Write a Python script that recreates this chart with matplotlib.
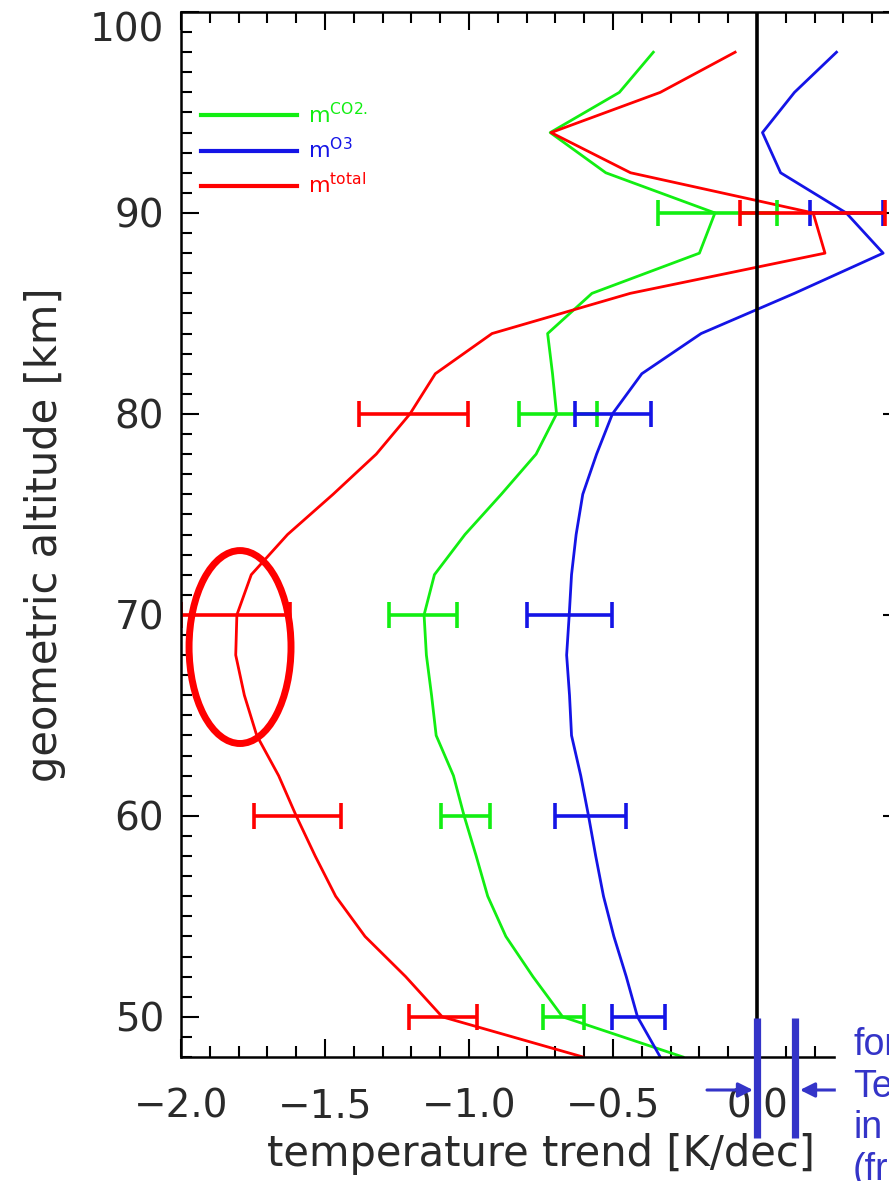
import matplotlib
matplotlib.use('Agg')

import matplotlib.pyplot as plt
import matplotlib.transforms as mtransforms
from matplotlib.patches import Ellipse, Rectangle
from matplotlib.ticker import MultipleLocator

# altitude grid [km] and temperature trends [K/dec]
alt = [48, 50, 52, 54, 56, 58, 60, 62, 64, 66, 68, 70, 72,
       74, 76, 78, 80, 82, 84, 86, 88, 90, 92, 94, 96, 98]
trend_co2 = [-0.257, -0.675, -0.778, -0.872, -0.935, -0.975, -1.017, -1.054, -1.114, -1.13, -1.148, -1.156, -1.12,
             -1.014, -0.888, -0.767, -0.696, -0.71, -0.727, -0.573, -0.20, -0.146, -0.525, -0.718, -0.478, -0.36]
trend_o3 = [-0.336, -0.415, -0.454, -0.497, -0.533, -0.56, -0.585, -0.612, -0.644, -0.651, -0.661, -0.652, -0.644,
            -0.628, -0.605, -0.557, -0.502, -0.40, -0.194, 0.13, 0.438, 0.31, 0.082, 0.019, 0.13, 0.276]
trend_total = [-0.604, -1.093, -1.22, -1.361, -1.463, -1.534, -1.60, -1.661, -1.737, -1.78, -1.81, -1.806, -1.756,
               -1.63, -1.472, -1.322, -1.205, -1.117, -0.92, -0.44, 0.236, 0.195, -0.439, -0.715, -0.336, -0.076]

# error bars
err_alt = [50, 60, 70, 80, 90]
co2_err_x = [-0.672, -1.0125, -1.16, -0.691, -0.1375]
co2_err = [0.071, 0.0855, 0.119, 0.137, 0.2055]
o3_err_x = [-0.412, -0.578, -0.65, -0.5, 0.31]
o3_err = [0.092, 0.124, 0.147, 0.131, 0.126]
total_err_x = [-1.089, -1.595, -1.81, -1.192, 0.193]
total_err = [0.118, 0.15, 0.19, 0.19, 0.251]

labels = [r'm$^{\rm CO2.}$', r'm$^{\rm O3}$', r'm$^{\rm total}$']
obs_range = [0.0, 0.132]
annot_lines = ['for', 'Te', 'in', '(fr']

GREEN = '#12ee12'
BLUE = '#1414e6'
RED = '#ff0000'
ANNOT = '#3434c8'
TXT = '#2a2a2a'

W, H = 889, 1181
fig = plt.figure(figsize=(W / 100, H / 100), dpi=100)
ax = fig.add_axes([181 / W, 1 - 1057 / H, 720 / W, 1045 / H])

def fx(px):
    return px / W

def fy(py):
    return 1 - py / H

ax.axvline(0, color='black', lw=2.6, zorder=5)

ax.plot(trend_co2, alt, color=GREEN, lw=2.0, label=labels[0])
ax.plot(trend_o3, alt, color=BLUE, lw=2.0, label=labels[1])
ax.plot(trend_total, alt, color=RED, lw=2.0, label=labels[2])

ebkw = dict(fmt='none', elinewidth=2.6, capsize=9.7, capthick=2.6)
ax.errorbar(co2_err_x, err_alt, xerr=co2_err, ecolor=GREEN, **ebkw)
ax.errorbar(o3_err_x, err_alt, xerr=o3_err, ecolor=BLUE, **ebkw)
ax.errorbar(total_err_x, err_alt, xerr=total_err, ecolor=RED, **ebkw)

ax.add_patch(Ellipse((-1.795, 68.4), width=0.354, height=9.6, fill=False, ec=RED, lw=5, zorder=6))

ax.set_xlim(-2.0, 0.5)
ax.set_ylim(48, 100)
ax.xaxis.set_major_locator(MultipleLocator(0.5))
ax.xaxis.set_minor_locator(MultipleLocator(0.1))
ax.yaxis.set_major_locator(MultipleLocator(10))
ax.yaxis.set_minor_locator(MultipleLocator(1))
ax.xaxis.set_major_formatter(lambda v, p: f'{v:.1f}'.replace('-', '\u2212'))

ax.tick_params(which='both', direction='in', top=True, right=True, width=1.5,
               labelsize=28, labelcolor=TXT)
ax.tick_params(which='major', length=13)
ax.tick_params(which='minor', length=8)
ax.tick_params(axis='x', pad=22)
ax.tick_params(axis='y', pad=12)
for s in ax.spines.values():
    s.set_linewidth(1.8)

ax.set_xlabel('temperature trend [K/dec]', fontsize=30, color=TXT)
ax.set_ylabel('geometric altitude [km]', fontsize=30, color=TXT)
ax.xaxis.set_label_coords(0.5, (1057 - 1133) / 1045)
ax.yaxis.set_label_coords((66 - 181) / 720, 0.5)

leg = ax.legend(loc='upper left', bbox_to_anchor=(20 / 720, 1 - 90 / 1045), frameon=False,
                fontsize=16, handlelength=4.3, handletextpad=0.5, labelspacing=0.45,
                borderpad=0, borderaxespad=0, labelcolor='linecolor')
for h in leg.legend_handles:
    h.set_linewidth(3)

# annotation at the bottom right
fig.add_artist(Rectangle((fx(836), 0), 1 - fx(836), fy(1008), color='white', zorder=3))
btrans = mtransforms.blended_transform_factory(ax.transData, fig.transFigure)
for xv in obs_range:
    ax.plot([xv, xv], [fy(1018), fy(1138)], transform=btrans, color=ANNOT, lw=5.2,
            solid_capstyle='butt', clip_on=False, zorder=10)
arrow = dict(arrowstyle='-|>', color=ANNOT, lw=2.2, mutation_scale=22, shrinkA=0, shrinkB=0)
ax.annotate('', xy=(fx(753), fy(1090)), xytext=(fx(707), fy(1090)),
            xycoords='figure fraction', textcoords='figure fraction', arrowprops=arrow, zorder=10)
ax.annotate('', xy=(fx(800), fy(1090)), xytext=(fx(836), fy(1090)),
            xycoords='figure fraction', textcoords='figure fraction', arrowprops=arrow, zorder=10)
fig.text(fx(853), fy(1027), '\n'.join(annot_lines), color=ANNOT, fontsize=27,
         family='Liberation Sans', va='top', ha='left', linespacing=1.2, zorder=11)

# top label sits below its tick like in the original
fig.canvas.draw()
for tick, loc in zip(ax.yaxis.get_major_ticks(), ax.yaxis.get_majorticklocs()):
    if loc == 100:
        tick.label1.set_verticalalignment('top')

fig.savefig('out.png', dpi=100)
